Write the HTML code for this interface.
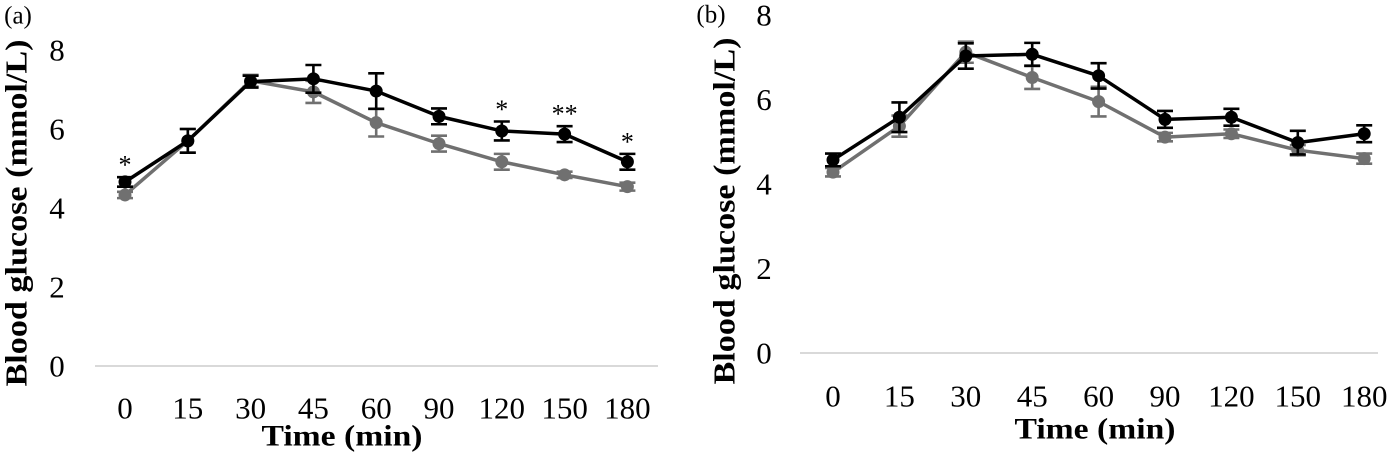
<!DOCTYPE html>
<html><head><meta charset="utf-8"><style>
html,body{margin:0;padding:0;background:#fff;}
svg{display:block;}
text{font-family:"Liberation Serif","Times New Roman",serif;}
</style></head><body>
<svg id="chart" width="1400" height="458" viewBox="0 0 1400 458" xmlns="http://www.w3.org/2000/svg"></svg>
<script>
const categories = ["0","15","30","45","60","90","120","150","180"];
const yTicks = [0,2,4,6,8];
const aBlack = [4.66,5.7,7.2,7.27,6.96,6.32,5.95,5.87,5.17];
const aBlackErr = [0.12,0.3,0.15,0.35,0.45,0.2,0.24,0.2,0.2];
const aGrey = [4.33,5.7,7.22,6.94,6.16,5.63,5.17,4.84,4.54];
const aGreyErr = [0.08,0.3,0.15,0.28,0.35,0.2,0.2,0.08,0.1];
const aStars = ["*","","","","","","*","**","*"];
const bBlack = [4.57,5.58,7.03,7.07,6.56,5.53,5.58,4.98,5.19];
const bBlackErr = [0.15,0.35,0.3,0.27,0.3,0.2,0.2,0.28,0.2];
const bGrey = [4.28,5.37,7.12,6.52,5.95,5.11,5.19,4.8,4.6];
const bGreyErr = [0.1,0.25,0.25,0.27,0.35,0.1,0.1,0.12,0.12];
const bStars = ["","","","","","","","",""];

const svg = document.getElementById('chart');
const NS = 'http://www.w3.org/2000/svg';
const FONT = '"Liberation Serif","Times New Roman",serif';
function mk(tag, attrs, parent){
  const e = document.createElementNS(NS, tag);
  for (const k in attrs) e.setAttribute(k, attrs[k]);
  (parent||svg).appendChild(e);
  return e;
}
function txt(x,y,s,size,weight,parent,len){
  const t = mk('text',{x:x,y:y,'font-size':size,'font-family':FONT,'font-weight':weight||'normal','text-anchor':'middle','dominant-baseline':'central',fill:'#000'},parent);
  if(len){t.setAttribute('textLength',len);t.setAttribute('lengthAdjust','spacingAndGlyphs');}
  t.textContent = s;
  return t;
}

function panel(cfg){
  const g = mk('g',{});
  
  
  const x = i => cfg.x0 + i*cfg.dx;
  const y = v => cfg.y0 - v*cfg.sy;
  const axis = mk('line',{x1:cfg.ax1,x2:cfg.ax2,y1:y(0),y2:y(0),stroke:'#d9d9d9','stroke-width':2},g);
  
  
  yTicks.forEach(v=>{
    const t = txt(cfg.ytx, y(v), String(v), 31, 'normal', g);
    
    
  });
  categories.forEach((c,i)=>{
    const t = txt(x(i), cfg.xty, c, 31, 'normal', g);
    
    
  });
  const xt = txt(cfg.xtitleX, cfg.xtitleY, 'Time (min)', 30, 'bold', g, 161);
  
  
  const yg = mk('g',{transform:`translate(${cfg.ytitleX},${cfg.ytitleY}) rotate(-90)`},g);
  
  
  const yt = mk('text',{x:0,y:0,'font-size':31,'font-family':FONT,'font-weight':'bold','text-anchor':'middle','dominant-baseline':'central',textLength:347,lengthAdjust:'spacingAndGlyphs'},yg);
  yt.textContent = 'Blood glucose (mmol/L)';
  const pl = txt(cfg.lblX, cfg.lblY, cfg.label, 25, 'normal', g);
  
  

  function series(vals, errs, color, name){
    const sg = mk('g',{},g);
    
    
    vals.forEach((v,i)=>{
      const e = errs[i];
      const eb = mk('path',{d:`M${x(i)},${y(v+e)}V${y(v-e)}M${x(i)-8},${y(v+e)}h16M${x(i)-8},${y(v-e)}h16`,stroke:color,'stroke-width':2.6,fill:'none'},sg);
      
      
    });
    const ln = mk('polyline',{points:vals.map((v,i)=>`${x(i)},${y(v)}`).join(' '),fill:'none',stroke:color,'stroke-width':3.5,'stroke-linejoin':'round'},sg);
    
    
    vals.forEach((v,i)=>{
      const c = mk('circle',{cx:x(i),cy:y(v),r:6.5,fill:color},sg);
      
      
    });
  }
  series(cfg.grey, cfg.greyErr, '#707070', 'series-grey');
  series(cfg.black, cfg.blackErr, '#000000', 'series-black');
  cfg.stars.forEach((s,i)=>{
    if(!s) return;
    const t = txt(x(i), y(cfg.black[i]+cfg.blackErr[i]) - 12, s, 26, 'normal', g);
    
    
  });
}

panel({name:'panel-a', label:'(a)', x0:125, dx:62.8, y0:366, sy:39.5, ax1:95, ax2:658, ytx:57, xty:408,
  xtitleX:342, xtitleY:436, ytitleX:16, ytitleY:213, lblX:18, lblY:16,
  black:aBlack, blackErr:aBlackErr, grey:aGrey, greyErr:aGreyErr, stars:aStars});
panel({name:'panel-b', label:'(b)', x0:833, dx:66.4, y0:353, sy:42.25, ax1:800, ax2:1378, ytx:764, xty:396,
  xtitleX:1095, xtitleY:429, ytitleX:724, ytitleY:211, lblX:711, lblY:15,
  black:bBlack, blackErr:bBlackErr, grey:bGrey, greyErr:bGreyErr, stars:bStars});
</script>
</body></html>
